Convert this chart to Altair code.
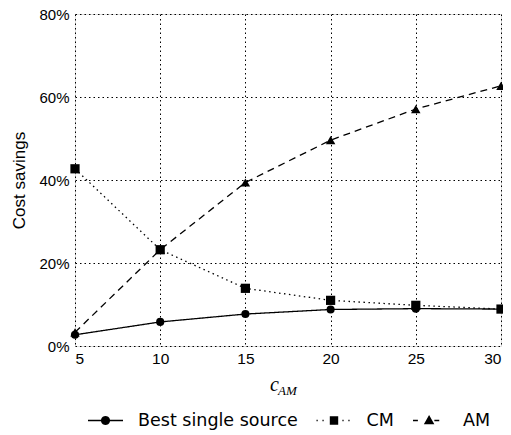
import math
import altair as alt
import pandas as pd

c_am = [5, 10, 15, 20, 25, 30]
best_single = [2.7, 5.8, 7.7, 8.8, 9.0, 8.9]
cm_vals = [42.7, 23.2, 13.9, 11.0, 9.8, 8.9]
am_vals = [3.3, 23.2, 39.4, 49.6, 57.1, 62.7]
series_names = ["Best single source", "CM", "AM"]

rows = []
for name, vals in zip(series_names, [best_single, cm_vals, am_vals]):
    for xv, yv in zip(c_am, vals):
        rows.append({"c": xv, "saving": yv / 100.0, "series": name})
df = pd.DataFrame(rows)

FONT = "DejaVu Sans"

x_enc = alt.X("c:Q", scale=alt.Scale(domain=[5, 30], nice=False),
              axis=alt.Axis(values=[5, 10, 15, 20, 25, 30], title=None, labelFontSize=15.5,
                            labelPadding=5, ticks=False, domain=False,
                            grid=True, gridDash=[1.5, 3], gridColor="black", gridOpacity=1,
                            gridWidth=1))
y_enc = alt.Y("saving:Q", scale=alt.Scale(domain=[0, 0.8], nice=False),
              axis=alt.Axis(values=[0, 0.2, 0.4, 0.6, 0.8], format=".0%", title="Cost savings",
                            titleFontSize=17, titleFontWeight="normal", titlePadding=10,
                            labelFontSize=15, labelPadding=6, ticks=False, domain=False,
                            grid=True, gridDash=[1.5, 3], gridColor="black", gridOpacity=1,
                            gridWidth=1))

base = alt.Chart(df)

dashes = [[1, 0], [1.5, 3.5], [7, 5]]
shapes = ["circle", "square", "triangle-up"]
sizes = [66, 85, 90]

layers = []
for i, (name, dash, shp, sz) in enumerate(zip(series_names, dashes, shapes, sizes)):
    sub = base.transform_filter(alt.datum.series == name)
    if i == 0:
        layers.append(sub.mark_line(color="black", strokeWidth=1.3, strokeDash=dash)
                      .encode(x=x_enc, y=y_enc))
    else:
        layers.append(sub.mark_line(color="black", strokeWidth=1.3, strokeDash=dash)
                      .encode(x="c:Q", y="saving:Q"))
    layers.append(sub.mark_point(filled=True, color="black", opacity=1, shape=shp, size=sz)
                  .encode(x="c:Q", y="saving:Q"))


def f(v):
    return f"{v:.3f}"


def seg(x0, x1, h=0.037):
    return f"M{f(x0)},{f(-h)}L{f(x1)},{f(-h)}L{f(x1)},{f(h)}L{f(x0)},{f(h)}Z"


r = 0.26
circ = "M" + "L".join(f"{f(r*math.cos(2*math.pi*k/20))},{f(r*math.sin(2*math.pi*k/20))}"
                      for k in range(20)) + "Z"
circle_path = seg(-1, -r + 0.02) + seg(r - 0.02, 1) + circ
sq = 0.24
square_path = (seg(-1.0, -0.93) + seg(-0.66, -0.59) + seg(0.48, 0.55) + seg(0.82, 0.89)
               + f"M{f(-sq)},{f(-sq)}L{f(sq)},{f(-sq)}L{f(sq)},{f(sq)}L{f(-sq)},{f(sq)}Z")
tri_path = (seg(-1.0, -0.72) + seg(0.22, 0.5)
            + f"M-0.080,-0.320L0.220,0.220L-0.380,0.220Z")

legend_layer = base.mark_point(filled=True, color="black", opacity=0, size=1225).encode(
    x="c:Q", y="saving:Q",
    shape=alt.Shape("series:N",
                    scale=alt.Scale(domain=series_names,
                                    range=[circle_path, square_path, tri_path]),
                    legend=alt.Legend(title=None, orient="none", legendX=13, legendY=389,
                                      direction="horizontal", symbolSize=1225,
                                      symbolFillColor="black", symbolStrokeWidth=0,
                                      symbolOpacity=1,
                                      labelFontSize=17.5, labelFont=FONT, labelColor="black",
                                      labelOffset=15, columnPadding=18.5, padding=0)),
)
layers.append(legend_layer)

layers.append(alt.Chart(pd.DataFrame({"t": ["c"]})).mark_text(
    font="Liberation Serif", fontStyle="italic", fontSize=20, align="left",
    baseline="alphabetic", color="black").encode(
    text="t:N", x=alt.value(195), y=alt.value(377)))
layers.append(alt.Chart(pd.DataFrame({"t": ["AM"]})).mark_text(
    font="Liberation Serif", fontStyle="italic", fontSize=13, align="left",
    baseline="alphabetic", color="black").encode(
    text="t:N", x=alt.value(203), y=alt.value(381)))

chart = alt.layer(*layers).properties(
    width=426, height=332,
    autosize=alt.AutoSizeParams(type="none"),
    padding={"left": 67, "top": 6, "right": 2, "bottom": 90},
).configure_view(
    stroke="black", strokeWidth=1.5
).configure_axis(
    labelFont=FONT, titleFont=FONT, labelColor="black", titleColor="black"
).configure(background="white")

chart.save("out.html", embed_options={"renderer": "svg", "actions": False})
